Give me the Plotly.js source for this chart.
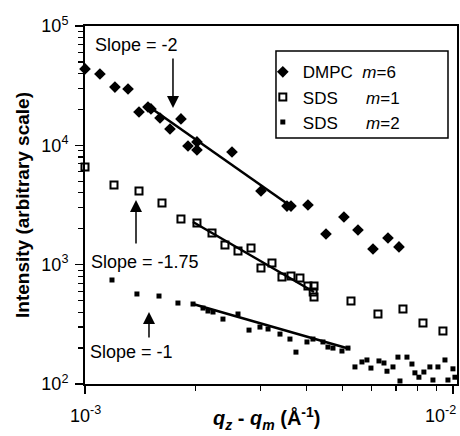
<!DOCTYPE html>
<html>
<head>
<meta charset="utf-8">
<script src="https://cdn.plot.ly/plotly-3.0.1.min.js"></script>
<style>html,body{margin:0;padding:0;background:#fff}#chart{width:460px;height:436px}</style>
</head>
<body>
<div id="chart"></div>
<script>
// ---- Data (x = qz - qm in 1/Å, y = intensity) ----
var dmpcX = [1.000e-3, 1.098e-3, 1.206e-3, 1.309e-3, 1.402e-3, 1.483e-3, 1.511e-3, 1.599e-3, 1.702e-3, 1.823e-3,
             1.905e-3, 2.015e-3, 2.015e-3, 2.509e-3, 3.008e-3, 3.539e-3, 3.629e-3, 4.036e-3, 4.518e-3, 5.055e-3,
             5.519e-3, 6.063e-3, 6.659e-3, 7.134e-3];
var dmpcY = [43650, 39600, 30800, 29650, 19020, 20950, 20170, 16950, 13700, 16630,
             9870, 10670, 9140, 8790, 4145, 3100, 3100, 3163, 1807, 2509,
             1952, 1353, 1673, 1407];

var sds1X = [1.000e-3, 1.199e-3, 1.402e-3, 1.619e-3, 1.823e-3, 2.015e-3, 2.214e-3, 2.401e-3, 2.605e-3, 2.826e-3,
             3.008e-3, 3.222e-3, 3.430e-3, 3.629e-3, 3.839e-3, 4.036e-3, 4.192e-3, 4.170e-3, 4.192e-3, 5.283e-3,
             6.255e-3, 7.314e-3, 8.290e-3, 9.393e-3];
var sds1Y = [6584, 4653, 4145, 3287, 2414, 2234, 1843, 1462, 1302, 1379,
             938, 1033, 788, 804, 773, 663, 663, 590, 536, 496,
             386, 425, 324, 278];

var sds2X = [1.184e-3, 1.384e-3, 1.589e-3, 1.789e-3, 1.966e-3, 2.093e-3, 2.159e-3, 2.228e-3, 2.371e-3, 2.605e-3,
             2.791e-3, 2.989e-3, 3.144e-3, 3.388e-3, 3.606e-3, 3.744e-3, 4.011e-3, 4.164e-3, 4.433e-3, 4.574e-3,
             4.720e-3, 4.993e-3, 5.184e-3, 5.416e-3, 5.658e-3, 5.838e-3, 5.986e-3, 6.294e-3, 6.494e-3, 6.618e-3,
             6.871e-3, 7.088e-3, 7.178e-3, 7.499e-3, 7.737e-3, 7.882e-3, 8.082e-3, 8.337e-3, 8.656e-3, 8.823e-3,
             9.104e-3, 9.513e-3, 9.692e-3, 1.000e-2, 1.0125e-2];
var sds2Y = [744, 568, 546, 477, 468, 433, 409, 401, 350, 386,
             283, 300, 289, 262, 238, 185, 225, 238, 225, 204,
             200, 189, 200, 139, 153, 159, 136, 156, 150, 128,
             139, 168, 106, 168, 147, 124, 114, 126, 139, 108,
             139, 159, 108, 134, 114];

// fitted power-law lines (end points)
var fitDmpcX = [1.483e-3, 3.651e-3], fitDmpcY = [21370, 3043];
var fitSds1X = [1.966e-3, 4.192e-3], fitSds1Y = [2279, 590];
var fitSds2X = [1.966e-3, 5.250e-3], fitSds2Y = [468, 196.5];

var seriesNames = ['DMPC\u00a0\u00a0<i>m</i>=6', 'SDS\u00a0\u00a0\u00a0\u00a0\u00a0\u00a0<i>m</i>=1', 'SDS\u00a0\u00a0\u00a0\u00a0\u00a0\u00a0<i>m</i>=2'];
var slopeLabels = ['Slope = -2', 'Slope = -1.75', 'Slope = -1'];

var xTickVals = [1e-3, 1e-2];
var xTickText = ['10<sup>-3</sup>', '10<sup>-2</sup>'];
var yTickVals = [1e2, 1e3, 1e4, 1e5];
var yTickText = ['10<sup>2</sup>', '10<sup>3</sup>', '10<sup>4</sup>', '10<sup>5</sup>'];

var FONT = 'Arial, "Liberation Sans", sans-serif';

var traces = [
  {x: dmpcX, y: dmpcY, name: seriesNames[0], mode: 'markers', cliponaxis: false,
   marker: {symbol: 'diamond', size: 9, color: '#000'}},
  {x: sds1X, y: sds1Y, name: seriesNames[1], mode: 'markers', cliponaxis: false,
   marker: {symbol: 'square-open', size: 7, color: '#000', line: {width: 2, color: '#000'}}},
  {x: sds2X, y: sds2Y, name: seriesNames[2], mode: 'markers', cliponaxis: false,
   marker: {symbol: 'square', size: 5, color: '#000'}},
  {x: fitDmpcX, y: fitDmpcY, mode: 'lines', showlegend: false, line: {color: '#000', width: 2.5}},
  {x: fitSds1X, y: fitSds1Y, mode: 'lines', showlegend: false, line: {color: '#000', width: 2.5}},
  {x: fitSds2X, y: fitSds2Y, mode: 'lines', showlegend: false, line: {color: '#000', width: 2.5}}
];

var ann = [];
// x tick labels (drawn as annotations so the right one stays inside the page)
ann.push({xref: 'x', yref: 'paper', x: Math.log10(xTickVals[0]), y: -0.084, text: xTickText[0],
          showarrow: false, xanchor: 'center', yanchor: 'middle', font: {family: FONT, size: 18, color: '#000'}});
ann.push({xref: 'x', yref: 'paper', x: Math.log10(xTickVals[1]), y: -0.084, text: xTickText[1], xshift: 5,
          showarrow: false, xanchor: 'right', yanchor: 'middle', font: {family: FONT, size: 18, color: '#000'}});
// x axis title
ann.push({xref: 'paper', yref: 'paper', x: 0.4866, y: -0.097, showarrow: false, xanchor: 'center', yanchor: 'middle',
          text: '<b><i>q<sub>z</sub></i> - <i>q<sub>m</sub></i> (Å<sup>-1</sup>)</b>', font: {family: FONT, size: 20, color: '#000'}});
// slope labels
var slopePos = [[-2.8587, 4.8408], [-2.837, 3.0224], [-2.8723, 2.268]];
for (var i = 0; i < 3; i++) {
  ann.push({xref: 'x', yref: 'y', x: slopePos[i][0], y: slopePos[i][1], text: slopeLabels[i], showarrow: false,
            xanchor: 'center', yanchor: 'middle', font: {family: FONT, size: 18, color: '#000'}});
}
// arrows
var arrows = [[-2.7609, 4.3129, -51], [-2.8614, 3.542, 45], [-2.8261, 2.6034, 27]];
for (var j = 0; j < 3; j++) {
  ann.push({xref: 'x', yref: 'y', x: arrows[j][0], y: arrows[j][1], ax: 0, ay: arrows[j][2], text: '',
            showarrow: true, arrowhead: 2, arrowsize: 1.6, arrowwidth: 1.5, arrowcolor: '#000', standoff: 0});
}

var layout = {
  width: 460, height: 436,
  margin: {l: 85, r: 3, t: 26, b: 52},
  paper_bgcolor: '#fff', plot_bgcolor: '#fff',
  font: {family: FONT, size: 18, color: '#000'},
  showlegend: true,
  legend: {x: 0.478, y: 0.921, xanchor: 'left', yanchor: 'top', bgcolor: 'rgba(0,0,0,0)', borderwidth: 0,
           font: {family: FONT, size: 17, color: '#000'}, tracegroupgap: 0},
  xaxis: {type: 'log', range: [-3, -1.989], showline: true, mirror: true, linecolor: '#000', linewidth: 2,
          showgrid: false, zeroline: false, tickmode: 'array', tickvals: xTickVals, ticktext: xTickText,
          showticklabels: false, ticks: 'outside', ticklen: 8, tickwidth: 1.5, tickcolor: '#000',
          minor: {dtick: 'D1', ticks: 'outside', ticklen: 5, tickwidth: 1.2, tickcolor: '#000', showgrid: false}},
  yaxis: {type: 'log', range: [2, 5], showline: true, mirror: true, linecolor: '#000', linewidth: 2,
          showgrid: false, zeroline: false, tickmode: 'array', tickvals: yTickVals, ticktext: yTickText,
          ticks: 'outside', ticklen: 8, tickwidth: 1.5, tickcolor: '#000', ticklabelstandoff: 3,
          tickfont: {family: FONT, size: 18, color: '#000'},
          minor: {dtick: 'D1', ticks: 'outside', ticklen: 5, tickwidth: 1.2, tickcolor: '#000', showgrid: false},
          title: {text: '<b>Intensity (arbitrary scale)</b>', font: {family: FONT, size: 19, color: '#000'}, standoff: 7}},
  shapes: [{type: 'rect', xref: 'paper', yref: 'paper', x0: 0.5134, x1: 0.9758, y0: 0.6872, y1: 0.9302,
            line: {color: '#000', width: 1.5}, fillcolor: 'rgba(0,0,0,0)'}],
  annotations: ann
};

Plotly.newPlot('chart', traces, layout, {displayModeBar: false, staticPlot: true});
</script>
</body>
</html>
